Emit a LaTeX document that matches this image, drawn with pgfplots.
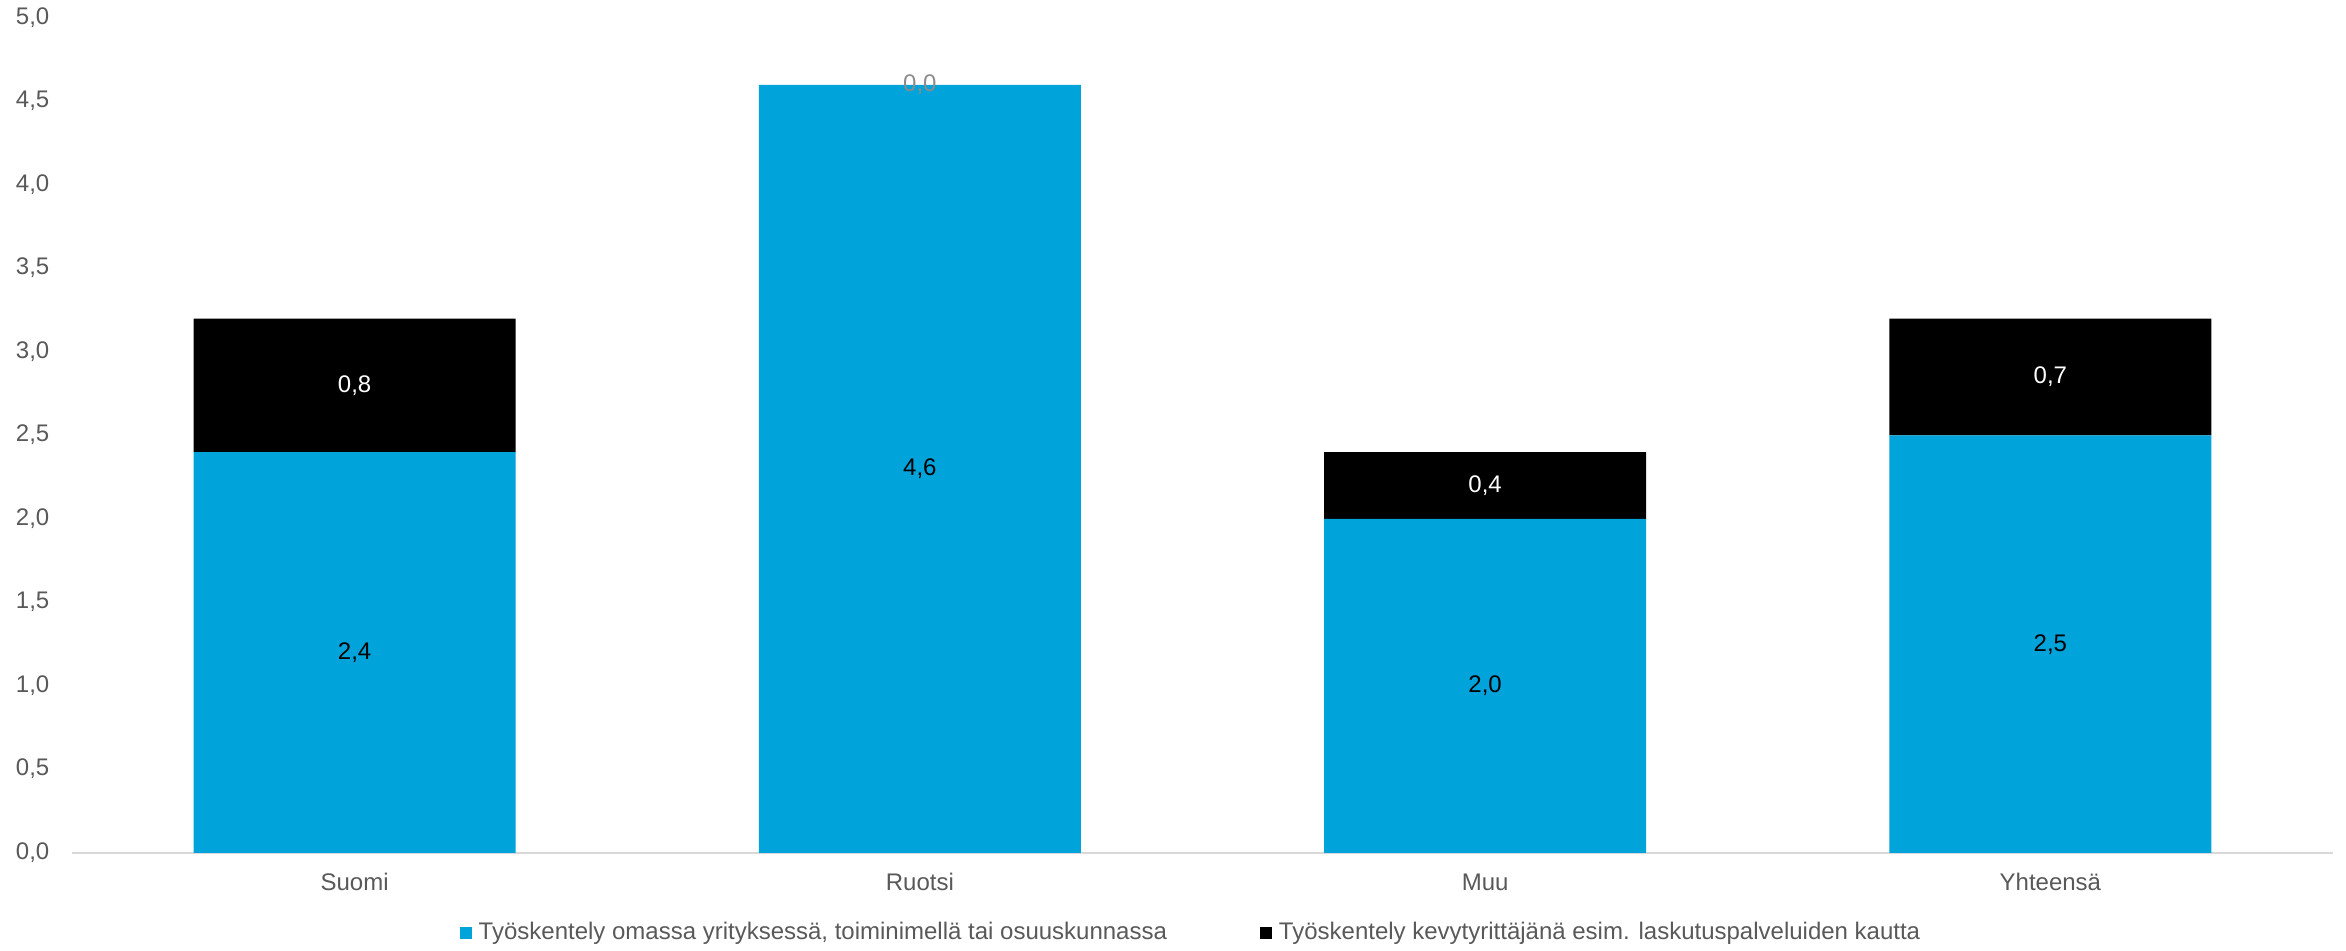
\documentclass[border=0pt]{standalone}
\usepackage{fontspec}
\setmainfont{Liberation Sans}
\usepackage{pgfplots}
\usepackage{pgfplotstable}
\pgfplotsset{compat=1.18}
\definecolor{cblue}{HTML}{00A3DA}
\definecolor{tickgrey}{HTML}{595959}
\definecolor{axgrey}{HTML}{D9D9D9}
\definecolor{zerogrey}{HTML}{8C8C8C}

\pgfplotstableread{
x a b
0 2.4 0.8
1 4.6 0.0
2 2.0 0.4
3 2.5 0.7
}\datatable

\begin{document}
\fontsize{7.2bp}{8.6bp}\selectfont
\begin{tikzpicture}
\begin{axis}[
  name=ax,
  scale only axis,
  width=678.3bp, height=250.5bp,
  ybar stacked,
  bar width=96.6bp,
  xmin=-0.5, xmax=3.5,
  ymin=0, ymax=5,
  xtick={0,1,2,3},
  xticklabels={Suomi,Ruotsi,Muu,Yhteensä},
  ytick={0,0.5,...,5},
  axis x line*=bottom,
  axis y line*=left,
  x axis line style={draw=axgrey, line width=0.6bp, -},
  y axis line style={draw=none},
  major tick length=0pt,
  tick style={draw=none},
  /pgf/number format/.cd, use comma, fixed, fixed zerofill, precision=1, assume math mode=true,
  /pgfplots/.cd,
  ticklabel style={font=\fontsize{7.2bp}{8.6bp}\selectfont, text=tickgrey},
  xticklabel style={anchor=base, inner sep=0pt, yshift=-11.3bp},
  yticklabel style={anchor=mid east, inner sep=0pt, xshift=-6.6bp},
  legend columns=2,
  legend style={draw=none, fill=none, at={(0.496,-0.0958)}, anchor=center,
    font=\fontsize{7.2bp}{8.6bp}\selectfont, text=tickgrey,
    /tikz/every even column/.append style={column sep=26bp}},
  legend image code/.code={\fill[#1] (0bp,-1.8bp) rectangle (3.6bp,1.8bp);},
  point meta=explicit,
  nodes near coords,
  every node near coord/.append style={anchor=center, font=\fontsize{7.2bp}{8.6bp}\selectfont},
]
\addplot[fill=cblue, draw=none, nodes near coords style={text=black}] table[x=x, y=a, meta=a] {\datatable};
\addlegendentry{Työskentely omassa yrityksessä, toiminimellä tai osuuskunnassa}
\addplot[fill=black, draw=none, nodes near coords style={text=white}] table[x=x, y=b, meta=b] {\datatable};
\addlegendentry{Työskentely kevytyrittäjänä esim. laskutuspalveluiden kautta}
\end{axis}
% overlay axis for the zero-valued label of the second series on top of Ruotsi
\begin{axis}[
  at={(ax.south west)}, anchor=south west,
  scale only axis,
  width=678.3bp, height=250.5bp,
  xmin=-0.5, xmax=3.5,
  ymin=0, ymax=5,
  hide axis,
  /pgf/number format/.cd, use comma, fixed, fixed zerofill, precision=1, assume math mode=true,
  /pgfplots/.cd,
  point meta=explicit,
  nodes near coords,
  every node near coord/.append style={anchor=center, text=zerogrey, font=\fontsize{7.2bp}{8.6bp}\selectfont},
]
\addplot[draw=none, mark=none] coordinates {(1,4.6) [0.0]};
\end{axis}
\pgfresetboundingbox
\path[use as bounding box] ([xshift=-21.6bp, yshift=-29.4bp]ax.south west) rectangle ([xshift=3.9bp, yshift=5.4bp]ax.north east);
\end{tikzpicture}
\end{document}
